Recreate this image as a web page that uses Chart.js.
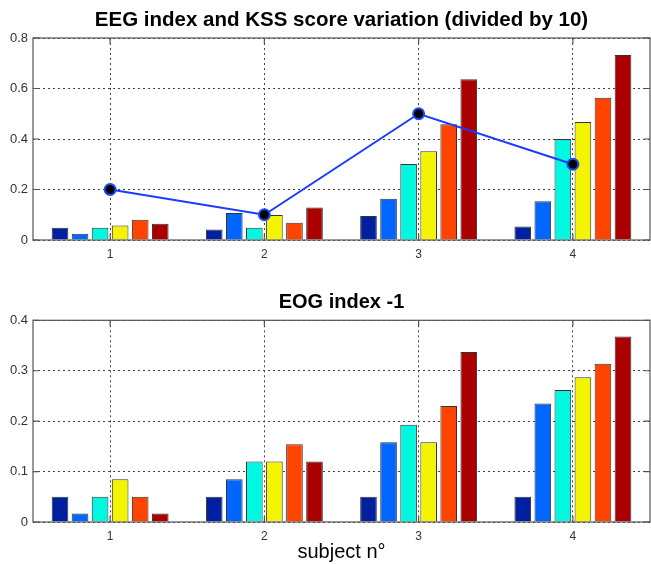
<!DOCTYPE html>
<html lang="en">
<head>
  <meta charset="UTF-8">
  <title>EEG / EOG index per subject</title>
  <script src="https://cdn.jsdelivr.net/npm/chart.js"></script>
  <style>
    body { margin: 0; background: #fff; }
    canvas { display: block; }
  </style>
</head>
<body>
<canvas id="eegChart" width="651" height="280"></canvas>
<canvas id="eogChart" width="651" height="284"></canvas>

<script>
  // subjects on the x axis
  var subjects = ['1', '2', '3', '4'];

  // top panel: EEG index bars (6 per subject) + KSS score / 10
  var eeg1 = [0.049, 0.042, 0.095, 0.053];
  var eeg2 = [0.025, 0.107, 0.163, 0.153];
  var eeg3 = [0.049, 0.049, 0.301, 0.400];
  var eeg4 = [0.057, 0.099, 0.351, 0.467];
  var eeg5 = [0.080, 0.068, 0.458, 0.563];
  var eeg6 = [0.064, 0.129, 0.637, 0.733];
  var kss = [0.2, 0.1, 0.5, 0.3];

  // bottom panel: EOG index - 1
  var eog1 = [0.050, 0.050, 0.050, 0.050];
  var eog2 = [0.017, 0.085, 0.158, 0.235];
  var eog3 = [0.050, 0.120, 0.193, 0.262];
  var eog4 = [0.085, 0.120, 0.158, 0.287];
  var eog5 = [0.050, 0.154, 0.230, 0.314];
  var eog6 = [0.017, 0.120, 0.337, 0.368];

  var eegTicks = [0, 0.2, 0.4, 0.6, 0.8];
  var eogTicks = [0, 0.1, 0.2, 0.3, 0.4];

  // jet-like colours
  var barColors = ['#0020a0', '#0066ff', '#00f8e0', '#f4f400', '#ff4400', '#aa0000'];

  var font = "'Liberation Sans', Arial, sans-serif";

  // matlab style box with inward ticks
  var framePlugin = {
    id: 'frame',
    afterDraw: function(chart) {
      var a = chart.chartArea, ctx = chart.ctx;
      var xs = chart.scales.x, ys = chart.scales.y;
      ctx.save();
      ctx.strokeStyle = '#555';
      ctx.lineWidth = 1.2;
      ctx.strokeRect(a.left, a.top, a.right - a.left, a.bottom - a.top);
      ctx.beginPath();
      ys.ticks.forEach(function(t) {
        var y = ys.getPixelForValue(t.value);
        ctx.moveTo(a.left, y); ctx.lineTo(a.left + 6, y);
        ctx.moveTo(a.right, y); ctx.lineTo(a.right - 6, y);
      });
      xs.ticks.forEach(function(t, i) {
        var x = xs.getPixelForTick(i);
        ctx.moveTo(x, a.bottom); ctx.lineTo(x, a.bottom - 6);
        ctx.moveTo(x, a.top); ctx.lineTo(x, a.top + 6);
      });
      ctx.stroke();
      ctx.restore();
    }
  };

  function barSets(series) {
    return series.map(function(vals, i) {
      return {
        type: 'bar',
        data: vals,
        backgroundColor: barColors[i],
        borderColor: '#333',
        borderWidth: 1,
        categoryPercentage: 0.78,
        barPercentage: 0.83
      };
    });
  }

  function makeOptions(tickVals, titleText, xTitle) {
    return {
      responsive: false,
      animation: false,
      layout: { autoPadding: false, padding: { left: 0, right: 1, top: 0, bottom: 0 } },
      plugins: {
        legend: { display: false },
        tooltip: { enabled: false },
        title: {
          display: true,
          fullSize: false,
          text: titleText,
          color: '#000',
          font: { family: font, size: 20.5, weight: 'bold' },
          padding: { top: 8, bottom: 5.4 }
        }
      },
      scales: {
        x: {
          offset: true,
          grid: { offset: false, color: '#444', drawTicks: false, lineWidth: 1 },
          border: { dash: [2, 3], display: false },
          ticks: { color: '#333', font: { family: font, size: 12 }, padding: 7 },
          title: {
            display: !!xTitle,
            text: xTitle || '',
            color: '#000',
            font: { family: font, size: 20 },
            padding: { top: 0, bottom: 0 }
          },
          afterFit: function(s) { s.height = xTitle ? 42 : 40; }
        },
        y: {
          min: tickVals[0],
          max: tickVals[tickVals.length - 1],
          afterBuildTicks: function(s) {
            s.ticks = tickVals.map(function(v) { return { value: v }; });
          },
          grid: { color: '#444', drawTicks: false, lineWidth: 1 },
          border: { dash: [2, 3], display: false },
          ticks: {
            color: '#333',
            font: { family: font, size: 13 },
            padding: 5,
            callback: function(v) { return v === 0 ? '0' : v.toFixed(1); }
          },
          afterFit: function(s) { s.width = 33; }
        }
      }
    };
  }

  var eegData = barSets([eeg1, eeg2, eeg3, eeg4, eeg5, eeg6]);
  eegData.unshift({
    type: 'line',
    data: kss,
    order: -1,
    borderColor: '#1a3cff',
    borderWidth: 2,
    pointRadius: 5.5,
    pointBackgroundColor: '#000',
    pointBorderColor: '#1a4cff',
    pointBorderWidth: 2
  });

  new Chart(document.getElementById('eegChart').getContext('2d'), {
    type: 'bar',
    data: { labels: subjects, datasets: eegData },
    options: makeOptions(eegTicks, 'EEG index and KSS score variation (divided by 10)'),
    plugins: [framePlugin]
  });

  var eogOpts = makeOptions(eogTicks, 'EOG index -1', 'subject n°');
  eogOpts.plugins.title.font = { family: font, size: 20, weight: 'bold' };
  eogOpts.plugins.title.padding = { top: 10, bottom: 6.3 };
  new Chart(document.getElementById('eogChart').getContext('2d'), {
    type: 'bar',
    data: { labels: subjects, datasets: barSets([eog1, eog2, eog3, eog4, eog5, eog6]) },
    options: eogOpts,
    plugins: [framePlugin]
  });
</script>
</body>
</html>
